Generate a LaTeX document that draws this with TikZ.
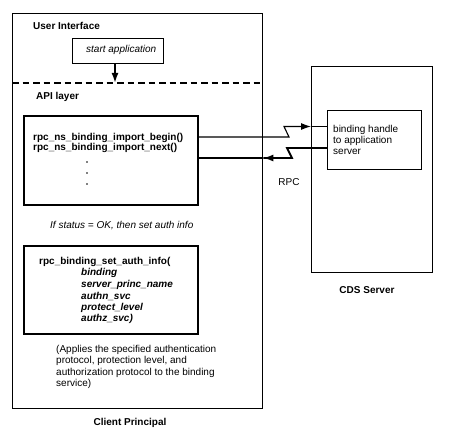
\documentclass[tikz,border=0pt]{standalone}
\usepackage{fontspec}
\setmainfont{Liberation Sans}
\usetikzlibrary{arrows.meta}
\begin{document}
\begin{tikzpicture}[x=1pt,y=-1pt,
  box/.style={draw,line width=1.3pt,inner sep=0,anchor=north west},
  lbl/.style={inner sep=0,anchor=west,font=\fontsize{10}{12}\selectfont},
  bl/.style={lbl,font=\fontsize{10}{12}\selectfont\bfseries},
  il/.style={lbl,font=\fontsize{10}{12}\selectfont\itshape},
  bil/.style={lbl,font=\fontsize{10}{12}\selectfont\bfseries\itshape},
  dot/.style={circle,fill,inner sep=0,minimum size=1.8pt},
  tip/.style={-{Latex[length=10pt,width=7pt]}}]
\useasboundingbox (0,0) rectangle (449,441);
% boxes
\node[box,minimum width=250pt,minimum height=395pt] (client) at (12,13) {};
\node[box,minimum width=121pt,minimum height=206pt] (cds) at (311,66) {};
\node[box,minimum width=94pt,minimum height=59pt] (bind) at (327,110) {};
\node[box,minimum width=91pt,minimum height=25pt] (start) at (72,38) {};
\node[box,line width=1.6pt,minimum width=174pt,minimum height=89pt] (import) at (23,115) {};
\node[box,line width=1.6pt,minimum width=174pt,minimum height=88pt] (auth) at (23,245) {};
% dashed separator
\coordinate (dl) at (12,83);
\coordinate (dr) at (262,83);
\draw[line width=1.1pt,dash pattern=on 6.5pt off 4pt] (dl) -- (dr);
% texts
\node[bl] (ui) at (33,26) {User Interface};
\node[il] (sa) at (86,50) {start application};
\node[bl] (api) at (36,97) {API layer};
\node[bl] (ib) at (33,138) {rpc\_ns\_binding\_import\_begin()};
\node[bl] (in) at (33,148) {rpc\_ns\_binding\_import\_next()};
\node[dot] (d1) at (87,162) {};
\node[dot] (d2) at (87,173) {};
\node[dot] (d3) at (87,184) {};
\node[il] (st) at (50,226) {If status = OK, then set auth info};
\node[bl] (sai) at (39,262) {rpc\_binding\_set\_auth\_info(};
\node[bil] (p1) at (81,273) {binding};
\node[bil] (p2) at (81,285) {server\_princ\_name};
\node[bil] (p3) at (81,296) {authn\_svc};
\node[bil] (p4) at (81,307.5) {protect\_level};
\node[bil] (p5) at (81,319) {authz\_svc)};
\node[lbl] (c1) at (56,349.5) {(Applies the specified authentication};
\node[lbl] (c2) at (56,361) {protocol, protection level, and};
\node[lbl] (c3) at (56,372.5) {authorization protocol to the binding};
\node[lbl] (c4) at (56,384) {service)};
\node[bl,anchor=center] (cp) at (130,423) {Client Principal};
\node[bl,anchor=center] (cs) at (367,290) {CDS Server};
\node[lbl] (b1) at (333,130) {binding handle};
\node[lbl] (b2) at (333,141) {to application};
\node[lbl] (b3) at (333,152) {server};
\node[lbl,anchor=center] (rpc) at (289,182) {RPC};
% arrow start -> api
\draw[line width=1.8pt,tip] (start.south -| 115,0) -- (115,83);
% top RPC arrow
\coordinate (t1) at (289,137);
\coordinate (t2) at (284,126.5);
\draw[line width=1.1pt,tip] (import.east |- t1) -- (t1) -- (t2) -- (cds.west |- t2);
\draw[line width=1.1pt] (cds.west |- t2) -- (bind.west |- t2);
% bottom RPC arrow
\coordinate (u1) at (287,148);
\coordinate (u2) at (292,158);
\draw[line width=1.8pt] (bind.west |- u1) -- (u1) -- (u2) -- (client.east |- u2);
\draw[line width=1.8pt,tip] (u2) -- (client.east |- u2);
\draw[line width=1.8pt] (client.east |- u2) -- (import.east |- u2);
\end{tikzpicture}
\end{document}
